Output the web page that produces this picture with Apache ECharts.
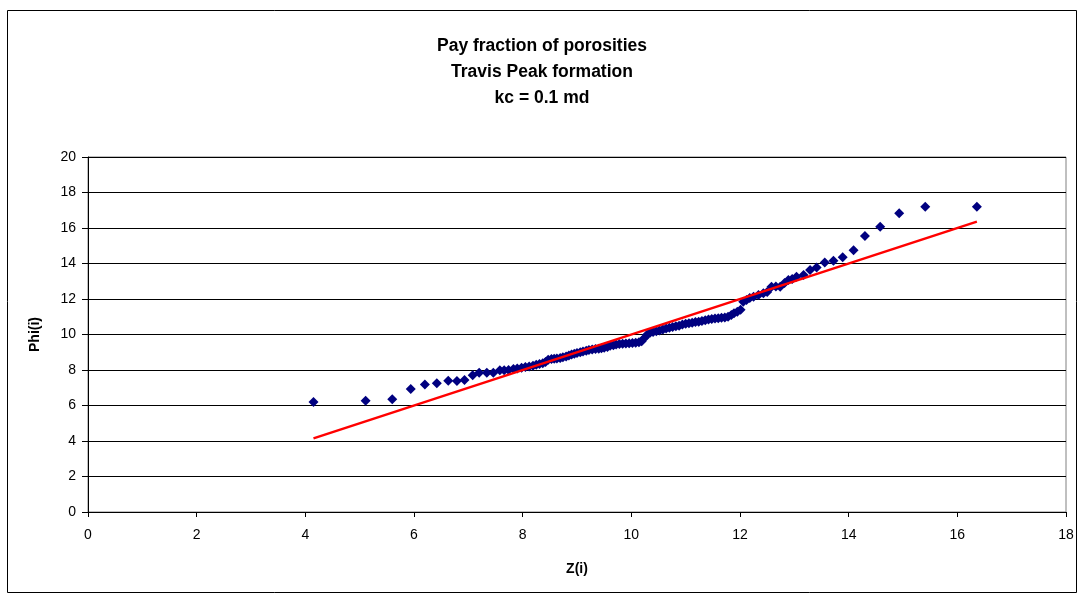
<!DOCTYPE html>
<html>
<head>
<meta charset="utf-8">
<script src="https://cdn.jsdelivr.net/npm/echarts@6/dist/echarts.min.js"></script>
<style>html,body{margin:0;padding:0;background:#fff}#c{width:1084px;height:595px}</style>
</head>
<body>
<div id="c"></div>
<script>
const titleLines = ['Pay fraction of porosities', 'Travis Peak formation', 'kc = 0.1 md'];
const xName = 'Z(i)';
const yName = 'Phi(i)';
const zValues = [4.15,5.11,5.60,5.94,6.20,6.42,6.63,6.79,6.93,7.08,7.20,7.34,7.46,7.58,7.66,7.74,7.83,7.90,7.98,8.05,8.12,8.19,8.25,8.31,8.37,8.42,8.47,8.53,8.58,8.63,8.69,8.74,8.80,8.85,8.90,8.95,9.00,9.06,9.11,9.17,9.22,9.28,9.34,9.40,9.45,9.50,9.56,9.61,9.67,9.72,9.78,9.84,9.90,9.96,10.02,10.08,10.14,10.19,10.24,10.29,10.34,10.40,10.46,10.52,10.58,10.64,10.70,10.76,10.82,10.88,10.94,11.00,11.06,11.12,11.18,11.24,11.30,11.36,11.42,11.48,11.54,11.60,11.66,11.72,11.78,11.84,11.89,11.95,12.01,12.06,12.12,12.18,12.25,12.34,12.43,12.50,12.58,12.66,12.74,12.82,12.89,12.96,13.04,13.17,13.29,13.41,13.56,13.72,13.89,14.09,14.30,14.58,14.93,15.41,16.36];
const phiValues = [6.20,6.27,6.35,6.93,7.19,7.25,7.40,7.38,7.44,7.70,7.85,7.85,7.85,7.98,7.98,8.00,8.06,8.08,8.12,8.17,8.20,8.24,8.30,8.34,8.38,8.45,8.58,8.62,8.64,8.65,8.68,8.72,8.76,8.82,8.88,8.92,8.96,9.00,9.04,9.08,9.12,9.15,9.18,9.20,9.22,9.25,9.30,9.36,9.40,9.44,9.46,9.48,9.50,9.51,9.52,9.53,9.56,9.62,9.80,9.98,10.08,10.14,10.18,10.22,10.28,10.34,10.38,10.42,10.46,10.50,10.56,10.60,10.63,10.66,10.70,10.72,10.76,10.80,10.84,10.88,10.90,10.92,10.94,10.96,11.00,11.10,11.20,11.28,11.40,11.85,11.95,12.05,12.13,12.22,12.32,12.40,12.69,12.70,12.69,12.90,13.07,13.12,13.26,13.35,13.63,13.77,14.05,14.16,14.35,14.74,15.55,16.07,16.83,17.20,17.20];
const fitLineZ = [4.15, 16.36];
const fitLinePhi = [4.15, 16.36];

const scatterData = zValues.map((z, i) => [z, phiValues[i]]);
const lineData = fitLineZ.map((z, i) => [z, fitLinePhi[i]]);
const font = 'Liberation Sans, Arial, sans-serif';

const chart = echarts.init(document.getElementById('c'), null, {renderer: 'canvas'});
chart.setOption({
  animation: false,
  backgroundColor: '#fff',
  title: {
    text: titleLines.join('\n'),
    left: 'center',
    top: 28,
    textStyle: {fontFamily: font, fontWeight: 'bold', fontSize: 17.5, color: '#000', lineHeight: 26}
  },
  graphic: [{
    type: 'rect', shape: {x: 7.5, y: 10.5, width: 1069, height: 582},
    style: {fill: 'none', stroke: '#000', lineWidth: 1}, silent: true, z: -1
  }],
  grid: {left: 88, right: 18, top: 157, bottom: 83, show: true, borderColor: '#808080', borderWidth: 1, backgroundColor: 'transparent'},
  xAxis: {
    type: 'value', min: 0, max: 18, interval: 2,
    name: xName, nameLocation: 'middle', nameGap: 50,
    nameTextStyle: {fontFamily: font, fontWeight: 'bold', fontSize: 14, color: '#000'},
    axisLine: {show: true, onZero: false, lineStyle: {color: '#000', width: 1}},
    axisTick: {show: true, length: 5, lineStyle: {color: '#000'}},
    axisLabel: {fontFamily: font, fontSize: 14, color: '#000', margin: 16},
    splitLine: {show: false}
  },
  yAxis: {
    type: 'value', min: 0, max: 20, interval: 2,
    name: yName, nameLocation: 'middle', nameGap: 46, nameRotate: 90,
    nameTextStyle: {fontFamily: font, fontWeight: 'bold', fontSize: 14, color: '#000'},
    axisLine: {show: true, onZero: false, lineStyle: {color: '#000', width: 1}},
    axisTick: {show: true, length: 6, lineStyle: {color: '#000'}},
    axisLabel: {fontFamily: font, fontSize: 14, color: '#000', margin: 12},
    splitLine: {show: true, lineStyle: {color: '#000', width: 1}}
  },
  series: [
    {
      type: 'scatter', data: scatterData, symbol: 'diamond', symbolSize: 10,
      itemStyle: {color: '#000080', opacity: 1}, z: 2
    },
    {
      type: 'line', data: lineData, symbol: 'none',
      lineStyle: {color: '#ff0000', width: 2.5}, z: 3
    }
  ]
});
</script>
</body>
</html>
